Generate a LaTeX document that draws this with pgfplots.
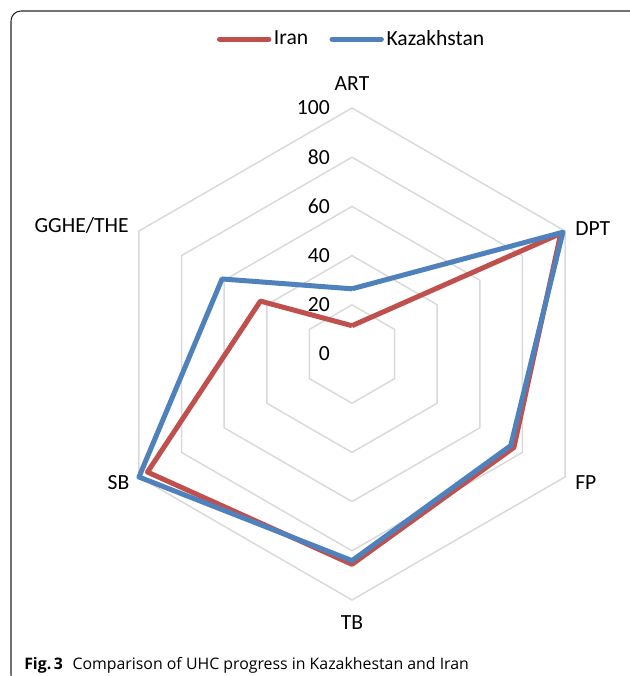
\documentclass[border=0pt]{standalone}
\usepackage{pgfplots}
\pgfplotsset{compat=1.18}
\usepgfplotslibrary{polar}
\usepackage{fontspec}
\setmainfont{Carlito}
\newfontfamily\capfont{Open Sans}
\definecolor{iran}{RGB}{192,80,77}
\definecolor{kaz}{RGB}{79,129,189}
\definecolor{gridc}{RGB}{217,217,217}
\begin{document}
\fontsize{16.2}{19}\selectfont
\begin{tikzpicture}[x=0.75pt,y=0.75pt]
\useasboundingbox (0,0) rectangle (630,676);
\begin{scope}
\clip (0,0) rectangle (630,676);
\draw[line width=0.8pt, black!85, rounded corners=7.5pt] (640,600) -- (640,665) -- (11,665) -- (11,-9) -- (100,-9);
\end{scope}
\node[anchor=base west, inner sep=0pt, font=\capfont\fontsize{11.9}{14}\selectfont] at (24,7) {\textbf{Fig.\,3}\hspace{0.6em}Comparison of UHC progress in Kazakhestan and Iran};
\begin{polaraxis}[
  at={(264pt,241.5pt)}, anchor=center,
  scale only axis, width=369pt, height=369pt,
  xmin=0, xmax=360, ymin=0, ymax=100,
  hide axis, clip=false,
  legend style={at={(0.5,1.14)}, anchor=center, draw=none, fill=none,
    legend columns=2, font=\fontsize{16.2}{19}\selectfont,
    /tikz/every even column/.append style={column sep=14pt},
    /tikz/every odd column/.append style={column sep=0pt},
    nodes={inner xsep=2pt, inner ysep=1pt}},
  legend image code/.code={\draw[#1, line cap=round] (0pt,0pt) -- (37pt,0pt);},
]
\addplot[gridc, line width=1.1pt, forget plot] coordinates {(90,20) (30,20) (-30,20) (-90,20) (-150,20) (150,20) (90,20)};
\addplot[gridc, line width=1.1pt, forget plot] coordinates {(90,40) (30,40) (-30,40) (-90,40) (-150,40) (150,40) (90,40)};
\addplot[gridc, line width=1.1pt, forget plot] coordinates {(90,60) (30,60) (-30,60) (-90,60) (-150,60) (150,60) (90,60)};
\addplot[gridc, line width=1.1pt, forget plot] coordinates {(90,80) (30,80) (-30,80) (-90,80) (-150,80) (150,80) (90,80)};
\addplot[gridc, line width=1.1pt, forget plot] coordinates {(90,100) (30,100) (-30,100) (-90,100) (-150,100) (150,100) (90,100)};
% Iran
\addplot[iran, line width=3.75pt, line join=round] coordinates {(90,11.5) (30,98) (-30,76) (-90,85.5) (-150,96) (150,43) (90,11.5)};
\addlegendentry{Iran}
% Kazakhstan
\addplot[kaz, line width=3.75pt, line join=round] coordinates {(90,26.5) (30,99) (-30,74.5) (-90,84) (-150,100) (150,61) (90,26.5)};
\addlegendentry{Kazakhstan}
% radial tick labels
\node[anchor=east, inner sep=0pt, xshift=-16.5pt] at (axis cs:90,100) {100};
\node[anchor=east, inner sep=0pt, xshift=-16.5pt] at (axis cs:90,80) {80};
\node[anchor=east, inner sep=0pt, xshift=-16.5pt] at (axis cs:90,60) {60};
\node[anchor=east, inner sep=0pt, xshift=-16.5pt] at (axis cs:90,40) {40};
\node[anchor=east, inner sep=0pt, xshift=-16.5pt] at (axis cs:90,20) {20};
\node[anchor=east, inner sep=0pt, xshift=-16.5pt] at (axis cs:90,0) {0};
% category labels
\node[anchor=base, inner sep=0pt, yshift=13.5pt] at (axis cs:90,100) {ART};
\node[anchor=west, inner sep=0pt, xshift=7.5pt, yshift=2pt] at (axis cs:30,100) {DPT};
\node[anchor=west, inner sep=0pt, xshift=7.5pt, yshift=-4pt] at (axis cs:-30,100) {FP};
\node[anchor=base, inner sep=0pt, yshift=-21.75pt] at (axis cs:-90,100) {TB};
\node[anchor=east, inner sep=0pt, xshift=-7pt, yshift=-4pt] at (axis cs:-150,100) {SB};
\node[anchor=east, inner sep=0pt, xshift=-7.5pt, yshift=4.5pt] at (axis cs:150,100) {GGHE/THE};
\end{polaraxis}
\end{tikzpicture}
\end{document}
